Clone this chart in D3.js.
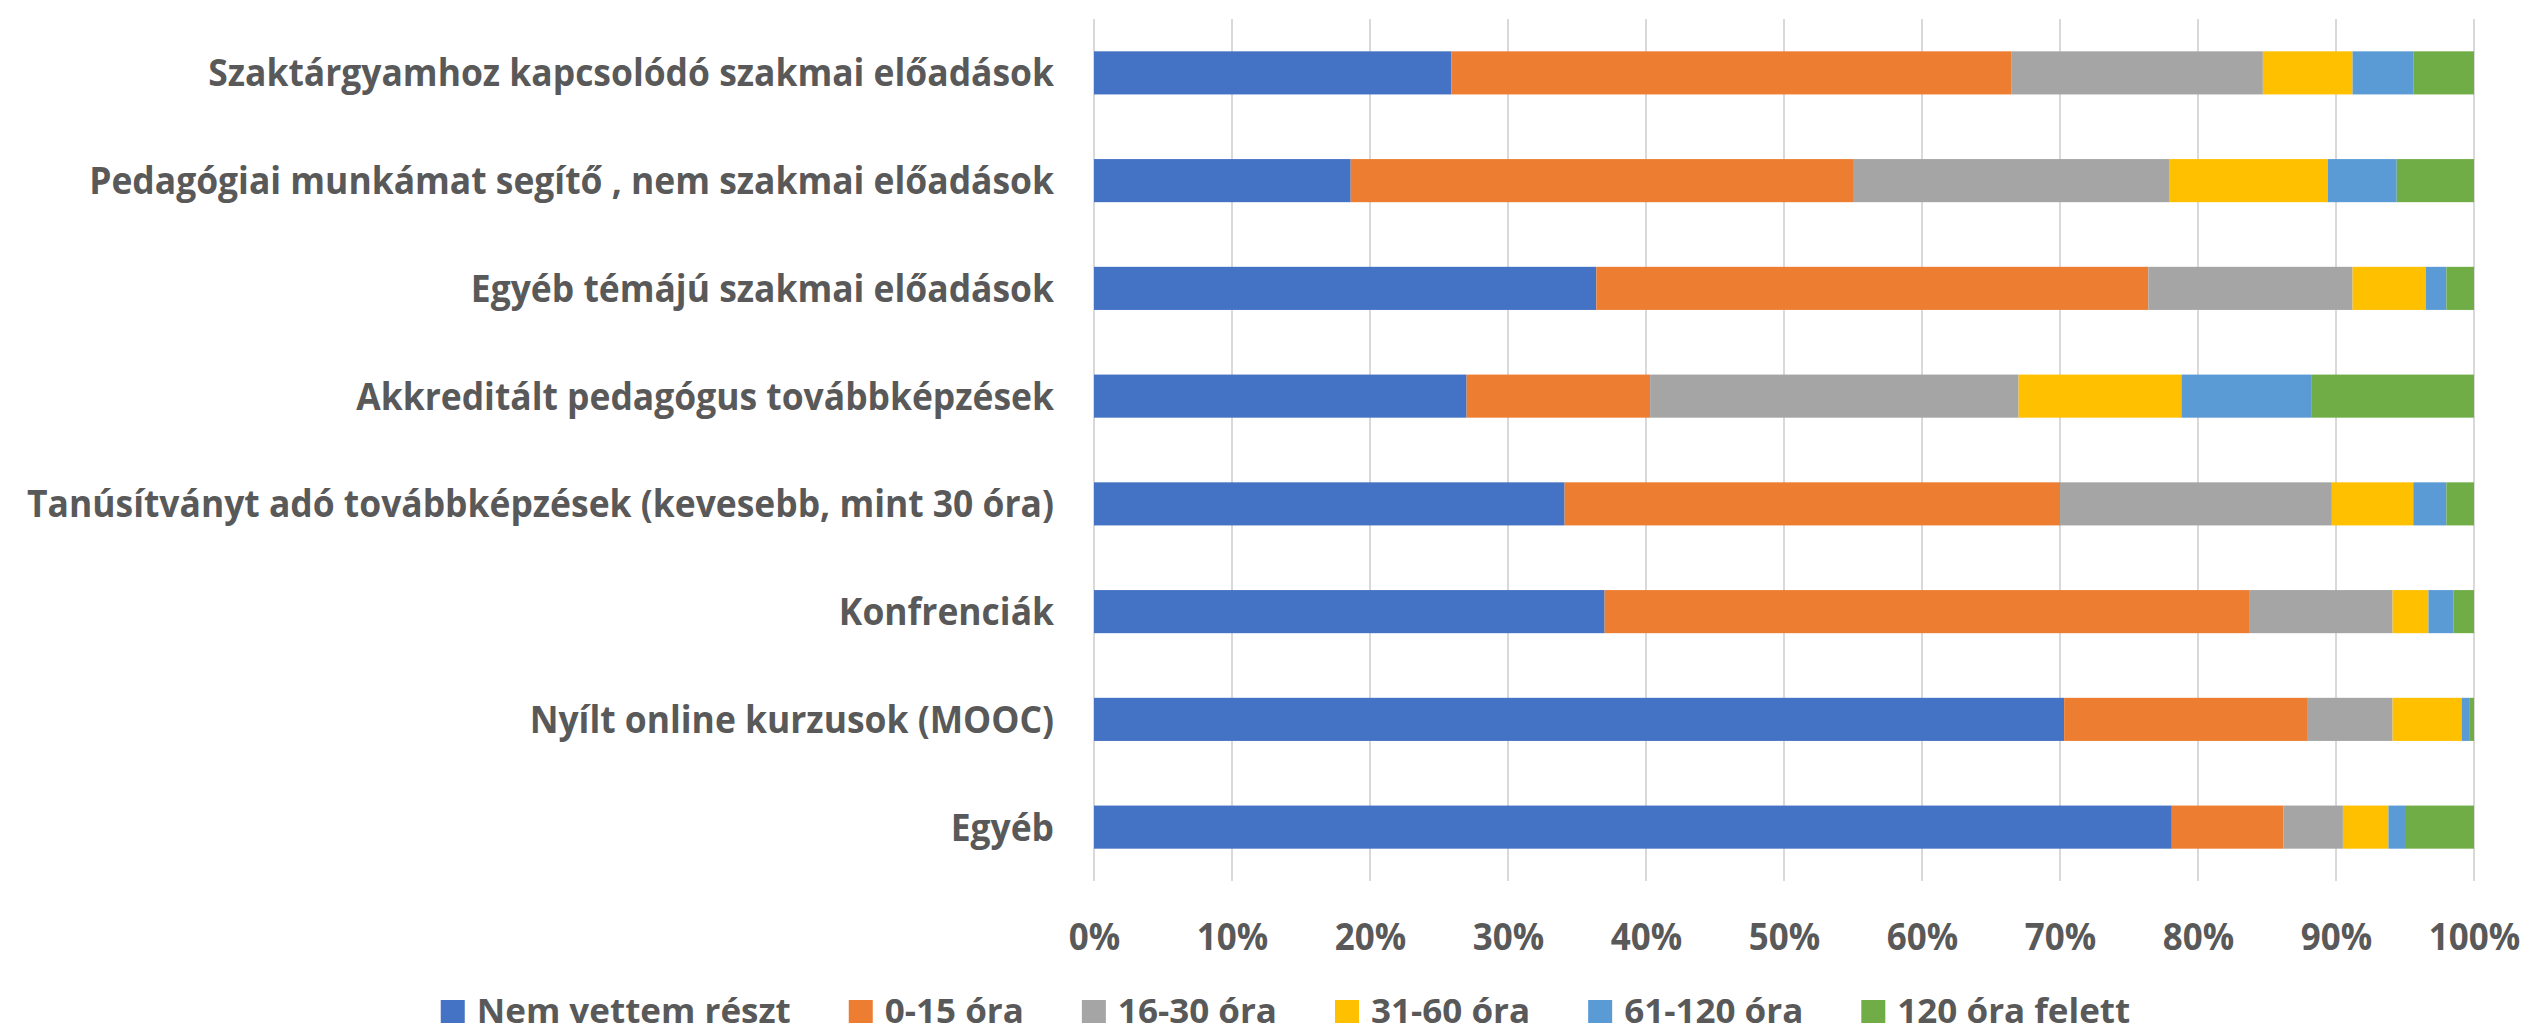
<!DOCTYPE html>
<html>
<head>
<meta charset="utf-8">
<script src="https://cdn.jsdelivr.net/npm/d3@7"></script>
<style>
  html, body { margin: 0; padding: 0; background: #fff; }
  svg { display: block; }
  text { font-family: "Open Sans", "Noto Sans", sans-serif; font-weight: 700; fill: #595959; }
</style>
</head>
<body>
<svg id="chart" width="2523" height="1035"></svg>
<script>
const categories = [
  "Szaktárgyamhoz kapcsolódó szakmai előadások",
  "Pedagógiai munkámat segítő , nem szakmai előadások",
  "Egyéb témájú szakmai előadások",
  "Akkreditált pedagógus továbbképzések",
  "Tanúsítványt adó továbbképzések (kevesebb, mint 30 óra)",
  "Konfrenciák",
  "Nyílt online kurzusok (MOOC)",
  "Egyéb"
];
const seriesNames = ["Nem vettem részt", "0-15 óra", "16-30 óra", "31-60 óra", "61-120 óra", "120 óra felett"];
const nemVettem   = [25.9, 18.6, 36.4, 27.0, 34.1, 37.0, 70.3, 78.1];
const ora0_15     = [40.6, 36.4, 40.0, 13.3, 35.9, 46.7, 17.6, 8.1];
const ora16_30    = [18.2, 22.9, 14.8, 26.7, 19.7, 10.4, 6.2, 4.3];
const ora31_60    = [6.5, 11.5, 5.3, 11.8, 5.9, 2.6, 5.0, 3.3];
const ora61_120   = [4.4, 5.0, 1.5, 9.4, 2.4, 1.8, 0.6, 1.2];
const ora120felett= [4.4, 5.6, 2.0, 11.8, 2.0, 1.5, 0.3, 5.0];
const tickValues = [0, 0.1, 0.2, 0.3, 0.4, 0.5, 0.6, 0.7, 0.8, 0.9, 1.0];
const colors = ["#4472C4", "#ED7D31", "#A5A5A5", "#FFC000", "#5B9BD5", "#70AD47"];

const seriesValues = [nemVettem, ora0_15, ora16_30, ora31_60, ora61_120, ora120felett];
const rows = categories.map((c, i) => {
  const r = { cat: c };
  seriesNames.forEach((s, j) => r[s] = seriesValues[j][i]);
  return r;
});
const stacked = d3.stack().keys(seriesNames).offset(d3.stackOffsetExpand)(rows);

const svg = d3.select("#chart");
const margin = { left: 1094, right: 49, top: 19, bottom: 154 };
const W = 2523, H = 1035;
const x = d3.scaleLinear().domain([0, 1]).range([margin.left, W - margin.right]);
const y = d3.scaleBand().domain(categories).range([margin.top, H - margin.bottom]).paddingInner(0.6).paddingOuter(0.3);

// gridlines
svg.append("g").selectAll("line").data(tickValues).join("line")
  .attr("x1", d => x(d)).attr("x2", d => x(d))
  .attr("y1", margin.top).attr("y2", H - margin.bottom)
  .attr("stroke", "#d9d9d9").attr("stroke-width", 2);

// bars
svg.append("g").selectAll("g").data(stacked).join("g")
  .attr("fill", (d, i) => colors[i])
  .selectAll("rect").data(d => d).join("rect")
  .attr("x", d => x(d[0]))
  .attr("width", d => x(d[1]) - x(d[0]))
  .attr("y", d => y(d.data.cat))
  .attr("height", y.bandwidth());

// x axis labels
const xAxis = d3.axisBottom(x).tickValues(tickValues).tickFormat(d3.format(".0%")).tickSize(0).tickPadding(0);
const gx = svg.append("g").attr("transform", `translate(0, ${H - margin.bottom})`).call(xAxis);
gx.select(".domain").remove();
gx.selectAll("text").attr("font-size", 38).attr("dy", null).attr("y", 0)
  .attr("transform", "translate(0,69) scale(0.92,1)")
  .attr("font-family", null).attr("fill", "#595959");

// y axis labels
const yAxis = d3.axisLeft(y).tickSize(0).tickPadding(0);
const gy = svg.append("g").attr("transform", `translate(${margin.left}, 0)`).call(yAxis);
gy.select(".domain").remove();
gy.selectAll("text").attr("font-size", 37.5).attr("dy", "0.36em").attr("x", 0)
  .attr("transform", "translate(-40,0) scale(0.945,1)")
  .attr("font-family", null).attr("fill", "#595959");

// legend
const legend = svg.append("g");
const lsx = 1.03;
const items = seriesNames.map((s, i) => {
  const g = legend.append("g");
  g.append("rect").attr("x", 0).attr("y", 1000).attr("width", 24).attr("height", 23).attr("fill", colors[i]);
  const t = g.append("text").attr("x", 0).attr("y", 0).attr("font-size", 34)
    .attr("transform", `translate(36,1023) scale(${lsx},1)`).text(s);
  return { g, t };
});
function layoutLegend() {
  const gap = 58;
  const widths = items.map(it => 36 + it.t.node().getComputedTextLength() * lsx);
  const total = d3.sum(widths) + gap * (items.length - 1);
  let pos = W / 2 + 24 - total / 2;
  items.forEach((it, i) => { it.g.attr("transform", `translate(${pos},0)`); pos += widths[i] + gap; });
}
layoutLegend();
if (document.fonts && document.fonts.ready) document.fonts.ready.then(layoutLegend);
</script>
</body>
</html>
